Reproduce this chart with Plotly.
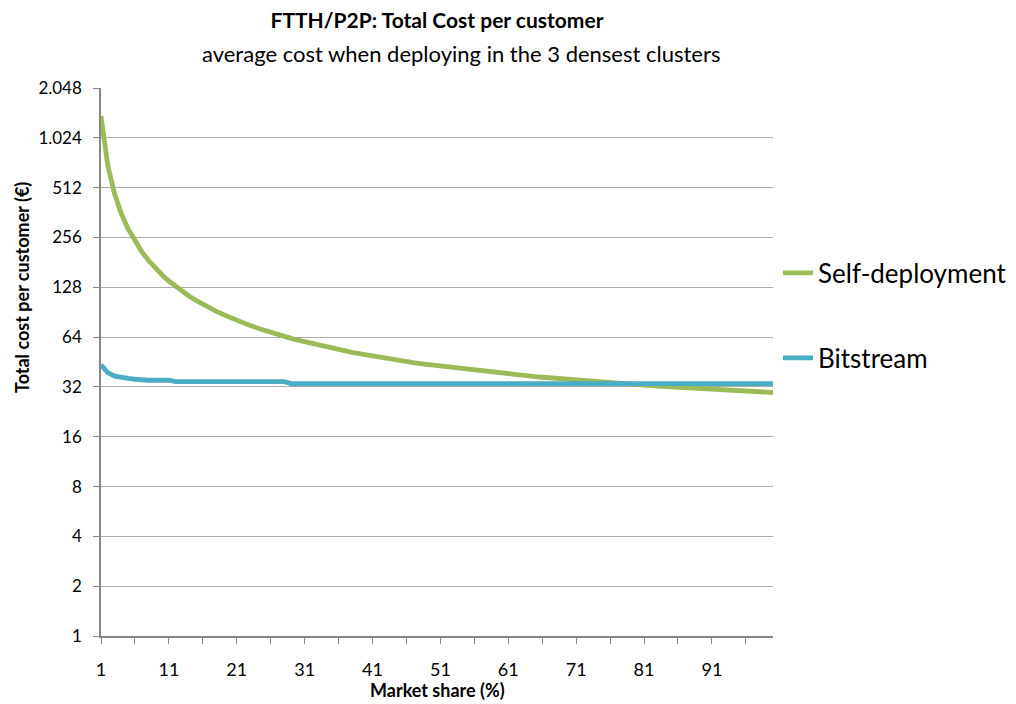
import plotly.graph_objects as go

market_share = list(range(1, 101))

self_deployment = [
    1385, 696, 469.3, 356, 288, 242.7, 210.3, 186, 167.1, 152,
    139.6, 129.3, 120.6, 113.1, 106.7, 101, 96, 91.6, 87.6, 84,
    80.8, 77.8, 75.1, 72.7, 70.4, 68.3, 66.4, 64.6, 62.9, 61.3,
    59.9, 58.5, 57.2, 56, 54.9, 53.8, 52.8, 51.8, 50.9, 50,
    49.2, 48.4, 47.6, 46.9, 46.2, 45.6, 44.9, 44.3, 43.8, 43.2,
    42.7, 42.2, 41.7, 41.2, 40.7, 40.3, 39.9, 39.4, 39.1, 38.7,
    38.3, 37.9, 37.6, 37.3, 36.9, 36.6, 36.3, 36, 35.7, 35.4,
    35.2, 34.9, 34.6, 34.4, 34.1, 33.9, 33.7, 33.4, 33.2, 33,
    32.8, 32.6, 32.4, 32.2, 32, 31.8, 31.6, 31.5, 31.3, 31.1,
    30.9, 30.8, 30.6, 30.5, 30.3, 30.2, 30, 29.9, 29.7, 29.6,
]

bitstream = [
    43.5, 39, 37.2, 36.3, 36, 35.6, 35.1, 35.1, 35.1, 35.1,
    35.1, 34.4, 34.4, 34.4, 34.4, 34.4, 34.4, 34.4, 34.4, 34.4,
    34.4, 34.4, 34.4, 34.4, 34.4, 34.4, 34.4, 34.4, 33.5, 33.5,
    33.5, 33.5, 33.5, 33.5, 33.5, 33.5, 33.5, 33.5, 33.5, 33.5,
    33.5, 33.5, 33.5, 33.5, 33.5, 33.5, 33.5, 33.5, 33.5, 33.5,
    33.5, 33.5, 33.5, 33.5, 33.5, 33.5, 33.5, 33.5, 33.5, 33.5,
    33.5, 33.5, 33.5, 33.5, 33.5, 33.5, 33.5, 33.5, 33.5, 33.5,
    33.5, 33.5, 33.5, 33.5, 33.5, 33.5, 33.5, 33.5, 33.5, 33.5,
    33.5, 33.5, 33.5, 33.5, 33.5, 33.5, 33.5, 33.5, 33.5, 33.5,
    33.5, 33.5, 33.5, 33.5, 33.5, 33.5, 33.5, 33.5, 33.5, 33.5,
]

y_tick_values = [1, 2, 4, 8, 16, 32, 64, 128, 256, 512, 1024, 2048]
y_tick_labels = ["1", "2", "4", "8", "16", "32", "64", "128", "256", "512", "1.024", "2.048"]
x_tick_values = [1, 11, 21, 31, 41, 51, 61, 71, 81, 91]
x_tick_labels = [str(v) for v in x_tick_values]

FONT = "Lato"
GREEN = "#9BBB59"
BLUE = "#4BACC6"
AXIS = "#868686"
GRID = "#ABABAB"

# the page shows the figure offset by the browser's 8px body margin
W, H = 1008, 696

fig = go.Figure()
fig.add_trace(go.Scatter(
    x=market_share, y=self_deployment, mode="lines", name="Self-deployment",
    line=dict(color=GREEN, width=4.8), legend="legend",
))
fig.add_trace(go.Scatter(
    x=market_share, y=bitstream, mode="lines", name="Bitstream",
    line=dict(color=BLUE, width=4.8), legend="legend2",
))

fig.update_layout(
    width=W, height=H,
    margin=dict(l=93, r=243, t=80, b=68, autoexpand=False),
    paper_bgcolor="white", plot_bgcolor="white",
    font=dict(family=FONT, color="black", size=18),
    title=dict(
        text="<b>FTTH/P2P: Total Cost per customer</b>",
        x=429 / W, xanchor="center", y=1 - 13 / H, yanchor="middle",
        font=dict(family=FONT, size=21, color="black"),
    ),
    legend=dict(
        xref="container", yref="container",
        x=770 / W, xanchor="left", y=1 - 265 / H, yanchor="middle",
        font=dict(family=FONT, size=26, color="black"),
        bgcolor="rgba(0,0,0,0)", itemwidth=30, borderwidth=0,
    ),
    legend2=dict(
        xref="container", yref="container",
        x=770 / W, xanchor="left", y=1 - 350 / H, yanchor="middle",
        font=dict(family=FONT, size=26, color="black"),
        bgcolor="rgba(0,0,0,0)", itemwidth=30, borderwidth=0,
    ),
    showlegend=True,
)

fig.update_xaxes(
    range=[1, 100],
    tickmode="array", tickvals=x_tick_values, ticktext=x_tick_labels,
    ticks="outside", ticklen=6, tickcolor=AXIS, tickwidth=1,
    minor=dict(tick0=1, dtick=5, ticks="outside", ticklen=6, tickcolor=AXIS, showgrid=False),
    showline=True, linecolor=AXIS, linewidth=1.5,
    showgrid=False, zeroline=False, automargin=False,
    ticklabelstandoff=11,
    tickfont=dict(family=FONT, size=18, color="black"),
)
fig.update_yaxes(
    type="log", range=[0, 3.31133],
    tickmode="array", tickvals=y_tick_values, ticktext=y_tick_labels,
    ticks="outside", ticklen=6, tickcolor=AXIS, tickwidth=1,
    showline=True, linecolor=AXIS, linewidth=1.5,
    showgrid=True, gridcolor=GRID, gridwidth=1.2,
    zeroline=False, automargin=False,
    ticklabelstandoff=8,
    tickfont=dict(family=FONT, size=17, color="black"),
)

fig.add_annotation(
    text="average cost when deploying in the 3 densest clusters",
    xref="paper", yref="paper", x=(461 - 101) / 672, y=1 + (88 - 53) / 548,
    xanchor="center", yanchor="middle", showarrow=False,
    font=dict(family=FONT, size=22, color="black"),
)
fig.add_annotation(
    text="<b>Total cost per customer (€)</b>",
    xref="paper", yref="paper", x=(22 - 101) / 672, y=(636 - 288) / 548,
    xanchor="center", yanchor="middle", textangle=-90, showarrow=False,
    font=dict(family=FONT, size=18, color="black"),
)
fig.add_annotation(
    text="<b>Market share (%)</b>",
    xref="paper", yref="paper", x=(437 - 101) / 672, y=-(690 - 636) / 548,
    xanchor="center", yanchor="middle", showarrow=False,
    font=dict(family=FONT, size=18, color="black"),
)

fig.write_html("out.html")
